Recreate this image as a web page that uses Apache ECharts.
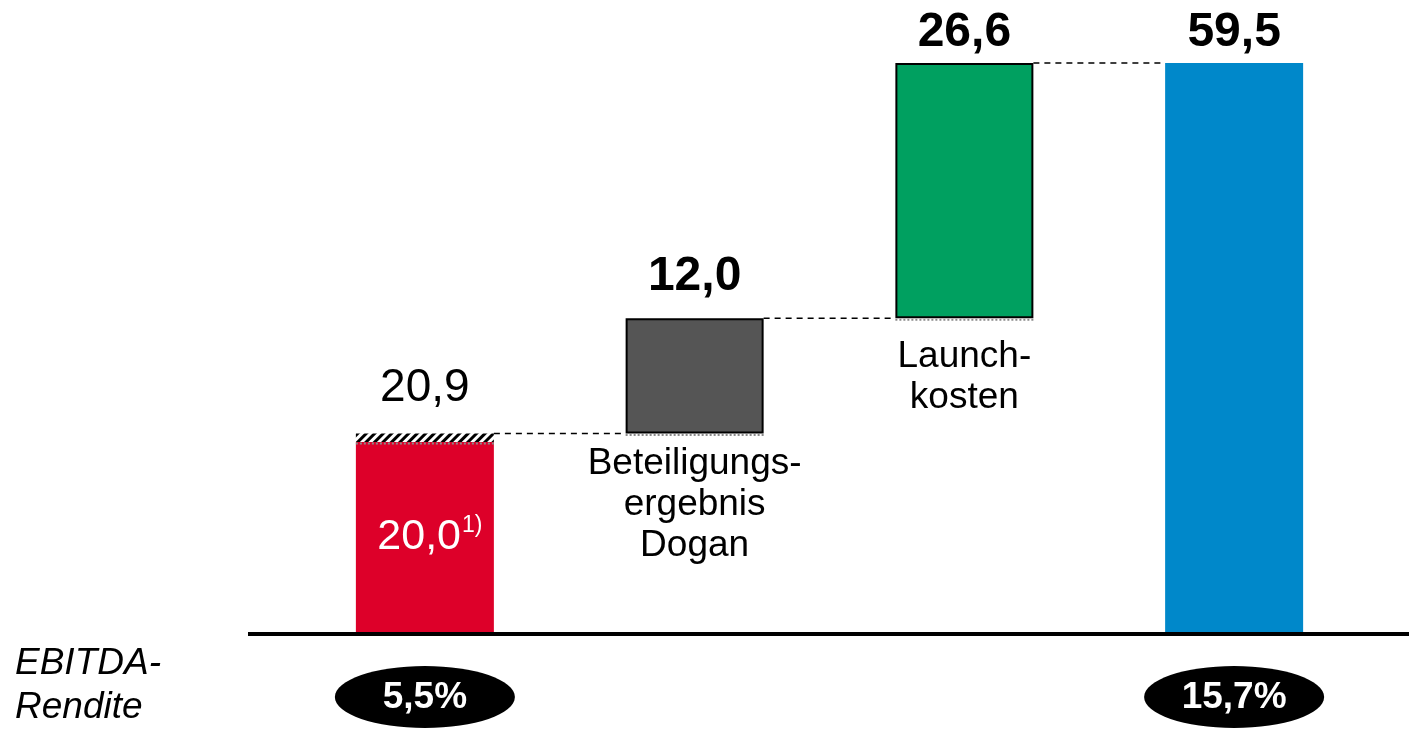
<!DOCTYPE html>
<html>
<head>
<meta charset="utf-8">
<title>EBITDA Überleitung</title>
<script src="https://cdn.jsdelivr.net/npm/echarts@6/dist/echarts.min.js"></script>
<style>
  html, body { margin: 0; padding: 0; background: #fff; }
  #main { width: 1409px; height: 729px; }
</style>
</head>
<body>
<div id="main"></div>
<script>
// data
const categories = ['EBITDA berichtet', 'Beteiligungsergebnis Dogan', 'Launchkosten', 'EBITDA bereinigt'];
const baseValues = [0, 20.9, 32.9, 0];          // invisible offset of the floating steps
const barValues = [20.0, 12.0, 26.6, 59.5];
const hatchValues = [0.9, null, null, null];    // hatched part on top of the first bar
const topLabels = ['20,9', '12,0', '26,6', '59,5'];
const insideLabels = ['20,0', '', '', ''];
const footnotes = ['1)', '', '', ''];
const stepNotes = ['', 'Beteiligungs-\nergebnis\nDogan', 'Launch-\nkosten', ''];
const marginLabels = ['5,5%', '', '', '15,7%'];

const FONT = '"Liberation Sans", Arial, Helvetica, sans-serif';
const barColors = ['#DD0029', '#555555', '#00A060', '#0088CA'];
const bordered = [false, true, true, false];
const topDist = [22, 18, 6, 6];
const topBold = [false, true, true, true];
const noteDist = [0, 10, 18, 0];
const BAR_W = 138;

const tops = categories.map((c, i) => baseValues[i] + barValues[i] + (hatchValues[i] || 0));
// where the visible upper segment of each column starts
const seams = categories.map((c, i) => hatchValues[i] != null ? baseValues[i] + barValues[i] : baseValues[i]);

function topLabel(i) {
  return {
    show: true,
    position: 'top',
    distance: topDist[i],
    formatter: topLabels[i],
    color: '#000',
    fontFamily: FONT,
    fontSize: topBold[i] ? 48 : 46,
    fontWeight: topBold[i] ? 'bold' : 'normal'
  };
}

const chart = echarts.init(document.getElementById('main'));

chart.setOption({
  animation: false,
  grid: { left: 290, right: 40, top: 39, bottom: 95 },
  xAxis: {
    type: 'category',
    data: categories,
    axisLine: { show: false },
    axisTick: { show: false },
    axisLabel: { show: false }
  },
  yAxis: {
    type: 'value',
    min: 0,
    max: 62,
    show: false,
    splitLine: { show: false }
  },
  series: [
    {
      name: 'base',
      type: 'bar',
      stack: 'w',
      barWidth: BAR_W,
      silent: true,
      itemStyle: { color: 'transparent' },
      data: baseValues.map((v, i) => ({
        value: v,
        label: {
          show: !!stepNotes[i],
          position: 'insideTop',
          distance: noteDist[i],
          formatter: stepNotes[i],
          color: '#000',
          fontFamily: FONT,
          fontSize: 37,
          lineHeight: 41,
          align: 'center'
        }
      }))
    },
    {
      name: 'main',
      type: 'bar',
      stack: 'w',
      barWidth: BAR_W,
      data: barValues.map((v, i) => ({
        value: v,
        itemStyle: {
          color: barColors[i],
          borderColor: bordered[i] ? '#000' : 'transparent',
          borderWidth: bordered[i] ? 2 : 0
        },
        label: hatchValues[i] != null ? {
          show: true,
          position: 'inside',
          offset: [5, -1],
          formatter: '{a|' + insideLabels[i] + '}{sup|' + footnotes[i] + '}',
          rich: {
            a: { color: '#fff', fontFamily: FONT, fontSize: 43, lineHeight: 46 },
            sup: { color: '#fff', fontFamily: FONT, fontSize: 23, verticalAlign: 'top', padding: [0, 0, 18, 1] }
          }
        } : topLabel(i)
      }))
    },
    {
      name: 'hatch',
      type: 'bar',
      stack: 'w',
      barWidth: BAR_W,
      data: hatchValues.map((v, i) => v == null ? '-' : {
        value: v,
        itemStyle: {
          color: '#fff',
          decal: {
            symbol: 'rect',
            symbolSize: 1,
            color: '#000',
            dashArrayX: [1, 0],
            dashArrayY: [3, 3],
            rotation: -Math.PI / 4
          }
        },
        label: topLabel(i)
      })
    },
    {
      name: 'connectors',
      type: 'custom',
      silent: true,
      z: 5,
      data: tops.slice(0, tops.length - 1).map((v, i) => [i, v]),
      renderItem: function (params, api) {
        const i = api.value(0);
        const v = api.value(1);
        const a = api.coord([i, v]);
        const b = api.coord([i + 1, v]);
        return {
          type: 'line',
          shape: { x1: a[0] + BAR_W / 2, y1: a[1], x2: b[0] - BAR_W / 2, y2: b[1] },
          style: { stroke: '#000', lineWidth: 1.5, lineDash: [6, 5] }
        };
      }
    },
    {
      name: 'seams',
      type: 'custom',
      silent: true,
      z: 4,
      data: seams.map((v, i) => [i, v]).filter(d => d[1] > 0),
      renderItem: function (params, api) {
        const p = api.coord([api.value(0), api.value(1)]);
        return {
          type: 'line',
          shape: { x1: p[0] - BAR_W / 2, y1: p[1] + 1.5, x2: p[0] + BAR_W / 2, y2: p[1] + 1.5 },
          style: { stroke: '#8a8a8a', lineWidth: 2, lineDash: [2, 2] }
        };
      }
    }
  ]
});

// baseline, row title and the margin ellipses
const y0 = chart.convertToPixel({ yAxisIndex: 0 }, 0);
const graphics = [
  {
    type: 'line',
    z: 10,
    shape: { x1: 248, y1: y0, x2: 1409, y2: y0 },
    style: { stroke: '#000', lineWidth: 4 }
  },
  {
    type: 'text',
    left: 15,
    top: 642,
    style: {
      text: 'EBITDA-\nRendite',
      font: 'italic 37px ' + FONT,
      lineHeight: 44,
      fill: '#000'
    }
  }
];
marginLabels.forEach((txt, i) => {
  if (!txt) return;
  const x = chart.convertToPixel({ xAxisIndex: 0 }, categories[i]);
  graphics.push({
    type: 'ellipse',
    z: 10,
    shape: { cx: x, cy: 697, rx: 90, ry: 31 },
    style: { fill: '#000' }
  });
  graphics.push({
    type: 'text',
    z: 11,
    style: {
      text: txt,
      x: x,
      y: 698,
      align: 'center',
      verticalAlign: 'middle',
      font: 'bold 37px ' + FONT,
      fill: '#fff'
    }
  });
});
chart.setOption({ graphic: graphics });
</script>
</body>
</html>
